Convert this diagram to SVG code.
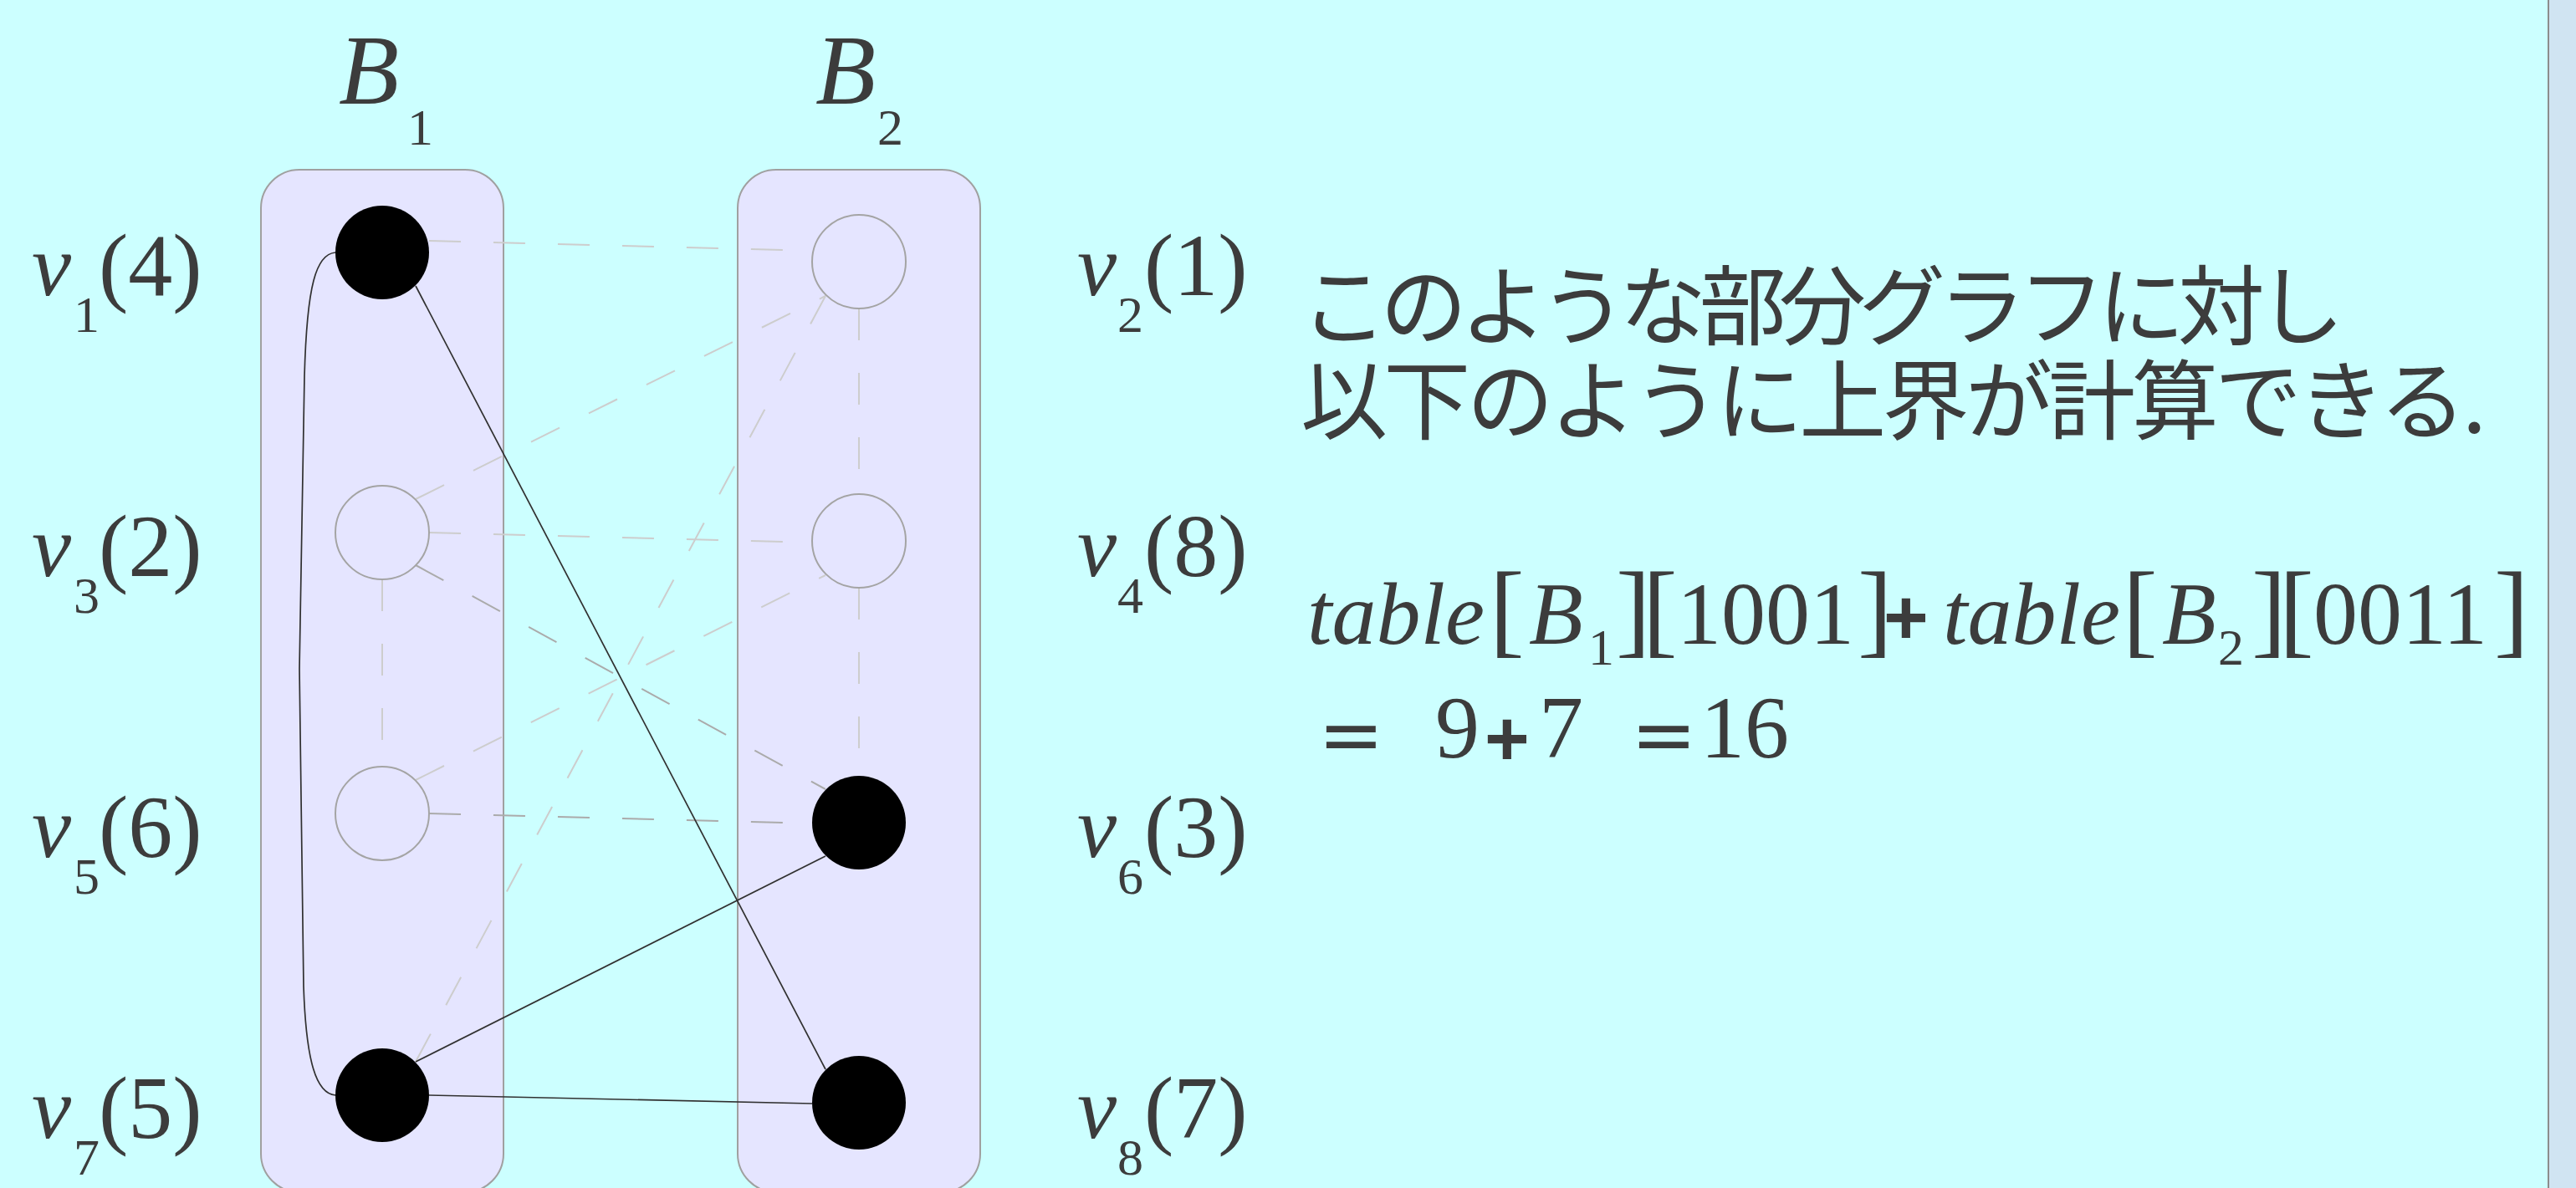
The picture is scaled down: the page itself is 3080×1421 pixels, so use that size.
<svg xmlns="http://www.w3.org/2000/svg" width="3080" height="1421" viewBox="0 0 3080 1421">
<style>
.t{font-family:"Liberation Serif","Times New Roman",serif;fill:#3c3c3c}
.it{font-style:italic}
.lab{font-size:106px}
.sub{font-size:62px}
.br{font-size:125px}
.op{font-family:"DejaVu Sans",sans-serif;fill:#3c3c3c;font-size:94px}
.plus{font-family:"Liberation Sans",Arial,sans-serif;font-weight:bold;fill:#3c3c3c;font-size:92px}
.jp{font-family:"Noto Sans CJK JP","Noto Sans CJK SC",sans-serif;fill:#3c3c3c;font-size:104px}
.bag{fill:#e5e5ff;stroke:#a0a0a0;stroke-width:2}
.open{fill:none;stroke:#a4a4a4;stroke-width:2}
.full{fill:#000}
.dash{fill:none;stroke:#cdcdcd;stroke-width:2;stroke-dasharray:38 39}
.dash2{fill:none;stroke:#ababab;stroke-width:2;stroke-dasharray:38 39}
.solid{fill:none;stroke:#303030;stroke-width:1.7}
</style>
<rect x="0" y="0" width="3080" height="1421" fill="#d0e4f2"/>
<rect x="-30" y="-30" width="3077" height="1480" rx="20" fill="#ccffff" stroke="#8c8c8c" stroke-width="2"/>

<g id="bag-B1">
<rect class="bag" x="312" y="203" width="290" height="1223" rx="46"/>
<text class="t it" x="405" y="124" font-size="118">B</text>
<text class="t sub" x="487" y="173" font-size="64">1</text>
</g>
<g id="bag-B2">
<rect class="bag" x="882" y="203" width="290" height="1223" rx="46"/>
<text class="t it" x="975" y="124" font-size="118">B</text>
<text class="t sub" x="1049" y="173" font-size="64">2</text>
</g>

<g id="connectors">
<line class="dash" x1="513" y1="288" x2="971" y2="300"/>
<line class="dash" x1="513" y1="637" x2="971" y2="649"/>
<line class="dash2" x1="513" y1="973" x2="971" y2="985"/>
<line class="dash" x1="497" y1="597" x2="987" y2="354"/>
<line class="dash2" x1="497" y1="676" x2="987" y2="944"/>
<line class="dash" x1="457" y1="693" x2="457" y2="917"/>
<line class="dash" x1="1027" y1="369" x2="1027" y2="591"/>
<line class="dash" x1="1027" y1="703" x2="1027" y2="928"/>
<line class="dash" x1="497" y1="933" x2="987" y2="688"/>
<line class="dash" x1="987" y1="354" x2="497" y2="1270"/>
<line class="solid" x1="497" y1="342" x2="987" y2="1279"/>
<line class="solid" x1="987" y1="1024" x2="497" y2="1270"/>
<line class="solid" x1="513" y1="1310" x2="971" y2="1320"/>
<path class="solid" d="M401,302 C378,304 367,340 364,450 L358,800 L363,1180 C366,1270 378,1308 401,1310"/>
</g>

<g id="v1"><circle class="full" cx="457" cy="302" r="56"/>
<text class="t it lab" x="38" y="353">v</text><text class="t sub" x="88" y="397">1</text><text class="t lab" x="118" y="353">(4)</text></g>
<g id="v3"><circle class="open" cx="457" cy="637" r="56"/>
<text class="t it lab" x="38" y="689">v</text><text class="t sub" x="88" y="733">3</text><text class="t lab" x="118" y="689">(2)</text></g>
<g id="v5"><circle class="open" cx="457" cy="973" r="56"/>
<text class="t it lab" x="38" y="1025">v</text><text class="t sub" x="88" y="1069">5</text><text class="t lab" x="118" y="1025">(6)</text></g>
<g id="v7"><circle class="full" cx="457" cy="1310" r="56"/>
<text class="t it lab" x="38" y="1361">v</text><text class="t sub" x="88" y="1405">7</text><text class="t lab" x="118" y="1361">(5)</text></g>
<g id="v2"><circle class="open" cx="1027" cy="313" r="56"/>
<text class="t it lab" x="1288" y="353">v</text><text class="t sub" x="1336" y="397">2</text><text class="t lab" x="1368" y="353">(1)</text></g>
<g id="v4"><circle class="open" cx="1027" cy="647" r="56"/>
<text class="t it lab" x="1288" y="689">v</text><text class="t sub" x="1336" y="733">4</text><text class="t lab" x="1368" y="689">(8)</text></g>
<g id="v6"><circle class="full" cx="1027" cy="984" r="56"/>
<text class="t it lab" x="1288" y="1025">v</text><text class="t sub" x="1336" y="1069">6</text><text class="t lab" x="1368" y="1025">(3)</text></g>
<g id="v8"><circle class="full" cx="1027" cy="1319" r="56"/>
<text class="t it lab" x="1288" y="1361">v</text><text class="t sub" x="1336" y="1405">8</text><text class="t lab" x="1368" y="1361">(7)</text></g>

<g id="caption">
<text class="jp" x="1555" y="405" textLength="1248" lengthAdjust="spacing">このような部分グラフに対し</text>
<text class="jp" x="1555" y="518" textLength="1418" lengthAdjust="spacing">以下のように上界が計算できる.</text>
</g>

<g id="formula">
<text class="t it lab" x="1563" y="770">table</text>
<text class="t br" x="1781" y="770">[</text>
<text class="t it lab" x="1828" y="770">B</text>
<text class="t sub" x="1899" y="795">1</text>
<text class="t br" x="1932" y="770">]</text>
<text class="t br" x="1964" y="770">[</text>
<text class="t lab" x="2005" y="770">1001</text>
<text class="t br" x="2221" y="770">]</text>
<text class="plus" x="2252" y="770">+</text>
<text class="t it lab" x="2323" y="770">table</text>
<text class="t br" x="2538" y="770">[</text>
<text class="t it lab" x="2585" y="770">B</text>
<text class="t sub" x="2652" y="795">2</text>
<text class="t br" x="2692" y="770">]</text>
<text class="t br" x="2725" y="770">[</text>
<text class="t lab" x="2766" y="770">0011</text>
<text class="t br" x="2982" y="770">]</text>
<text class="op" x="1576" y="911">=</text>
<text class="t lab" x="1716" y="906">9</text>
<text class="plus" x="1775" y="915">+</text>
<text class="t lab" x="1840" y="906">7</text>
<text class="op" x="1950" y="911">=</text>
<text class="t lab" x="2033" y="906">16</text>
</g>
</svg>
